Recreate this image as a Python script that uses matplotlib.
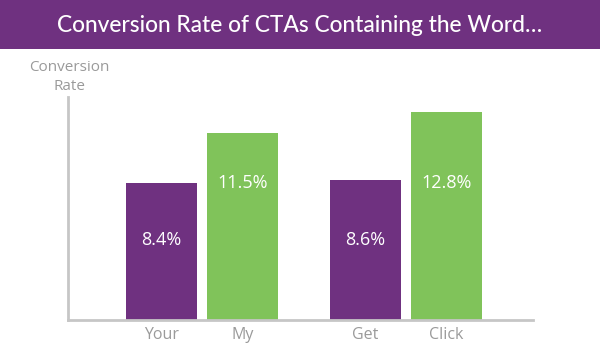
import matplotlib
matplotlib.use("Agg")
import matplotlib.pyplot as plt
from matplotlib.patches import Rectangle

# Data
categories = ["Your", "My", "Get", "Click"]
values = [8.4, 11.5, 8.6, 12.8]
labels = ["8.4%", "11.5%", "8.6%", "12.8%"]
series = ["purple", "green", "purple", "green"]

title = "Conversion Rate of CTAs Containing the Word\u2026"
ylabel = "Conversion\nRate"

PURPLE = "#6f3180"
GREEN = "#80c35a"
GRAY_TEXT = "#9a9a9a"
AXIS = "#c6c6c6"

plt.rcParams['font.family'] = ['Open Sans', 'DejaVu Sans']

W, H = 600, 357
fig = plt.figure(figsize=(W / 100, H / 100), dpi=100)

# Title banner
banner = Rectangle((0, 1 - 49 / H), 1, 49 / H, transform=fig.transFigure,
                   facecolor=PURPLE, edgecolor="none", zorder=0)
fig.patches.append(banner)
fig.text(0.5, 1 - 25 / H, title, ha="center", va="center", color="white",
         fontsize=16.4, family=["Lato", "DejaVu Sans"], fontweight="medium")

# Axes
left, right, bottom, top = 68, 533, 320, 97
ax = fig.add_axes([left / W, 1 - bottom / H, (right - left) / W, (bottom - top) / H])

group_pos = [0.0, 2.534]
offset = 1.005
xs = []
for g in group_pos:
    xs += [g, g + offset]
colors = {"purple": PURPLE, "green": GREEN}
label_y = {"purple": 4.9, "green": 8.4}

ax.bar(xs, values, width=0.882, color=[colors[s] for s in series], zorder=2)
for x, v, lab, s in zip(xs, values, labels, series):
    ax.text(x, label_y[s], lab, ha="center", va="center", color="white",
            fontsize=13)

ax.set_xlim(-1.161, 4.615)
ax.set_ylim(0, 13.7)
ax.set_xticks(xs)
ax.set_xticklabels(categories, color=GRAY_TEXT, fontsize=11.5)
ax.tick_params(axis="x", length=0, pad=5)
ax.set_yticks([])
for sp in ["top", "right"]:
    ax.spines[sp].set_visible(False)
for sp in ["left", "bottom"]:
    ax.spines[sp].set_color(AXIS)
    ax.spines[sp].set_linewidth(2)

fig.text(left / W + 0.002, 1 - 77 / H, ylabel, ha="center", va="center",
         color=GRAY_TEXT, fontsize=11, linespacing=1.45)

fig.savefig("out.png", dpi=100)
